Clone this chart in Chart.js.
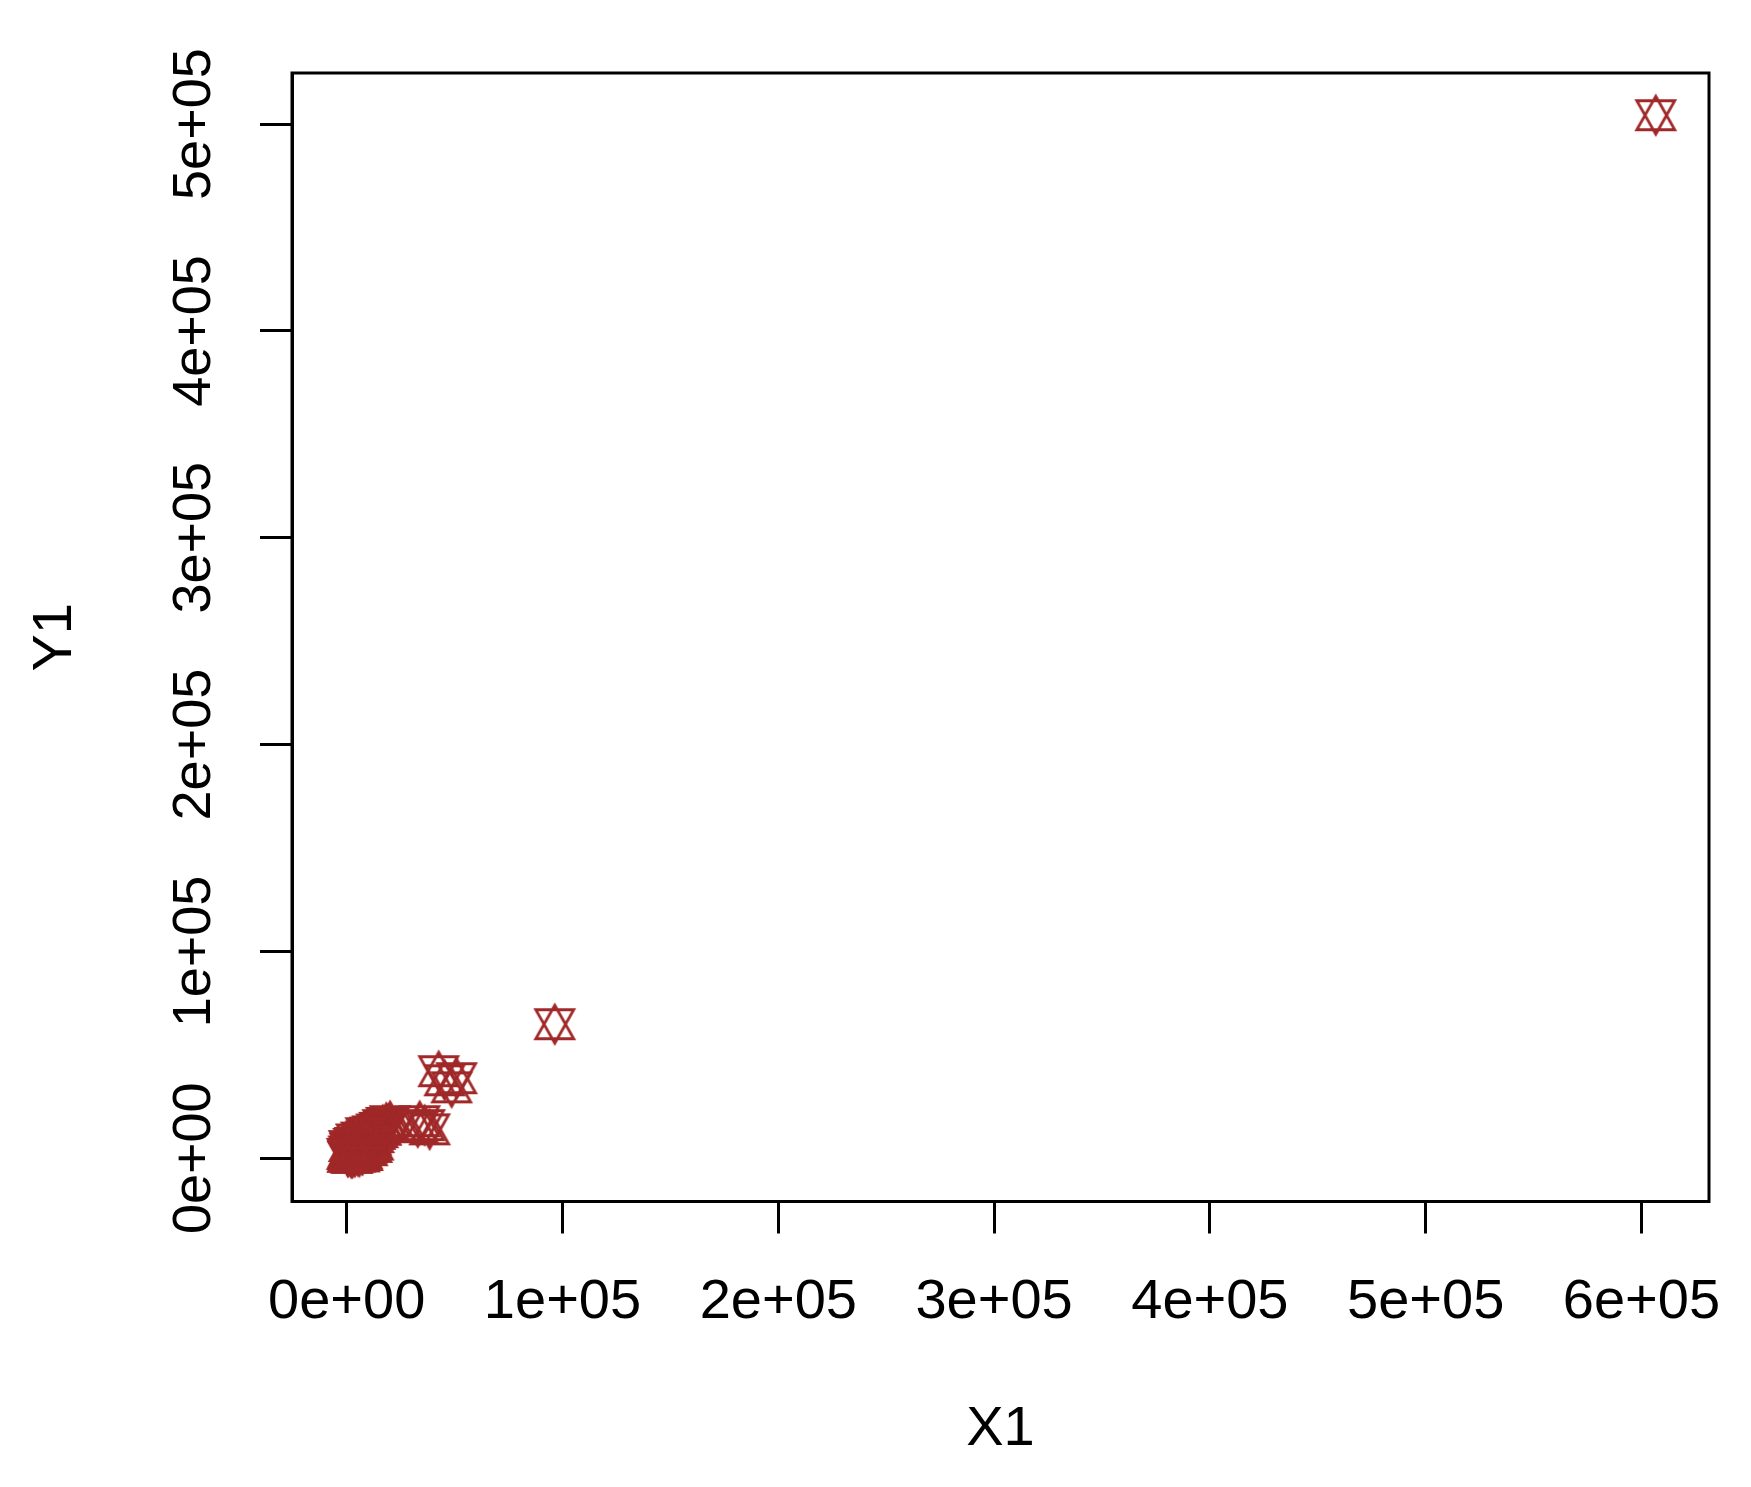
<!DOCTYPE html>
<html>
<head>
<meta charset="utf-8">
<script src="https://cdn.jsdelivr.net/npm/chart.js@4/dist/chart.umd.min.js"></script>
<style>
    html, body { margin: 0; padding: 0; background: #fff; }
    canvas { display: block; }
</style>
</head>
<body>
<canvas id="chart" width="1751" height="1487"></canvas>
<script>
// X1 / Y1 pairs (dense cluster near the origin, a few outliers)
const x1 = [
    200, 500, 900, 1300, 1600, 2000, 2300, 2700, 3000, 3400,
    3800, 4100, 4500, 4900, 5200, 5600, 6000, 6400, 6800, 7100,
    7500, 7900, 8200, 8600, 9000, 9300, 9700, 10100, 10500, 10800,
    11200, 11600, 12000, 12500, 13100, 13800, 14400, 15200, 15900, 16700,
    17500, 18300, 19200, 20100,
    1100, 2600, 3900, 5400, 6700, 8000, 9500, 10900, 12300, 4400,
    7300, 700, 3200, 5900, 8800,
    33800, 36100, 38400, 32900,
    42600, 45400, 48600, 50900,
    96400, 606600
];
const y1 = [
    2100, 700, 3300, 1400, 4500, 400, 2800, 5300, 1900, 3900,
    800, 6100, 2600, 4700, 1200, 7000, 3500, 5600, 8200, 2400,
    6500, 9600, 4300, 7400, 10500, 5200, 8600, 11300, 6300, 12400,
    9100, 5500, 13000, 10200, 11800, 13900, 12600, 14700, 13800, 16000,
    15300, 17100, 16400, 17900,
    5900, 200, 7400, 3100, 10000, 6000, 3900, 8000, 6600, 9100,
    1600, 1100, 6900, 900, 12100,
    17900, 16000, 14000, 15000,
    42100, 37700, 34300, 38700,
    64800, 504300
];

const xTicks = [0, 100000, 200000, 300000, 400000, 500000, 600000];
const xTickLabels = ['0e+00', '1e+05', '2e+05', '3e+05', '4e+05', '5e+05', '6e+05'];
const yTicks = [0, 100000, 200000, 300000, 400000, 500000];
const yTickLabels = ['0e+00', '1e+05', '2e+05', '3e+05', '4e+05', '5e+05'];

const FONT = 'Liberation Sans, Arial, sans-serif';
const INK = '#000';
const BROWN = '#A02828';
const LW = 3;

// R pch 11: triangle up + triangle down
function starMarker(color) {
    const c = document.createElement('canvas');
    c.width = 46;
    c.height = 46;
    const g = c.getContext('2d');
    const m = 23, half = 19, apex = 19, bar = 14.5;
    g.strokeStyle = color;
    g.lineWidth = 2.8;
    g.beginPath();
    g.moveTo(m, m - apex);
    g.lineTo(m + half, m + bar);
    g.lineTo(m - half, m + bar);
    g.closePath();
    g.moveTo(m, m + apex);
    g.lineTo(m + half, m - bar);
    g.lineTo(m - half, m - bar);
    g.closePath();
    g.stroke();
    return c;
}

// full frame round the plot region, like R's box()
const boxPlugin = {
    id: 'box',
    afterDatasetsDraw: function (chart) {
        const ctx = chart.ctx, a = chart.chartArea;
        ctx.save();
        ctx.strokeStyle = INK;
        ctx.lineWidth = LW;
        ctx.strokeRect(a.left, a.top, a.right - a.left, a.bottom - a.top);
        ctx.restore();
    }
};

const points = x1.map(function (x, i) {
    return {x: x, y: y1[i]};
});

new Chart(document.getElementById('chart'), {
    type: 'scatter',
    data: {
        datasets: [{
            data: points,
            pointStyle: starMarker(BROWN),
            pointRadius: 19,
            borderColor: BROWN,
            backgroundColor: BROWN
        }]
    },
    options: {
        responsive: false,
        animation: false,
        devicePixelRatio: 1,
        layout: {
            padding: {top: 73, right: 42, left: 0, bottom: 0}
        },
        plugins: {
            legend: {display: false},
            tooltip: {enabled: false}
        },
        scales: {
            x: {
                type: 'linear',
                position: 'bottom',
                min: -25350,
                max: 631300,
                afterBuildTicks: function (scale) {
                    scale.ticks = xTicks.map(function (v) { return {value: v}; });
                },
                afterFit: function (scale) {
                    scale.height = 1487 - 1201.5;
                    scale.paddingLeft = 0;
                    scale.paddingRight = 0;
                },
                ticks: {
                    autoSkip: false,
                    maxRotation: 0,
                    padding: 35,
                    color: INK,
                    font: {family: FONT, size: 56},
                    callback: function (v) {
                        return xTickLabels[xTicks.indexOf(v)];
                    }
                },
                grid: {
                    display: true,
                    drawOnChartArea: false,
                    drawTicks: true,
                    tickLength: 32,
                    tickWidth: LW,
                    tickColor: INK
                },
                border: {display: true, color: INK, width: LW},
                title: {
                    display: true,
                    text: 'X1',
                    color: INK,
                    font: {family: FONT, size: 56},
                    padding: {top: 0, bottom: 24}
                }
            },
            y: {
                type: 'linear',
                position: 'left',
                min: -20900,
                max: 524700,
                afterBuildTicks: function (scale) {
                    scale.ticks = yTicks.map(function (v) { return {value: v}; });
                },
                afterFit: function (scale) {
                    scale.width = 292;
                    scale.paddingTop = 0;
                    scale.paddingBottom = 0;
                },
                ticks: {
                    autoSkip: false,
                    minRotation: 90,
                    maxRotation: 90,
                    crossAlign: 'center',
                    padding: -11,
                    color: INK,
                    font: {family: FONT, size: 54},
                    callback: function (v) {
                        return yTickLabels[yTicks.indexOf(v)];
                    }
                },
                grid: {
                    display: true,
                    drawOnChartArea: false,
                    drawTicks: true,
                    tickLength: 32,
                    tickWidth: LW,
                    tickColor: INK
                },
                border: {display: true, color: INK, width: LW},
                title: {
                    display: true,
                    text: 'Y1',
                    color: INK,
                    font: {family: FONT, size: 56},
                    padding: {top: 22, bottom: 0}
                }
            }
        }
    },
    plugins: [boxPlugin]
});
</script>
</body>
</html>
